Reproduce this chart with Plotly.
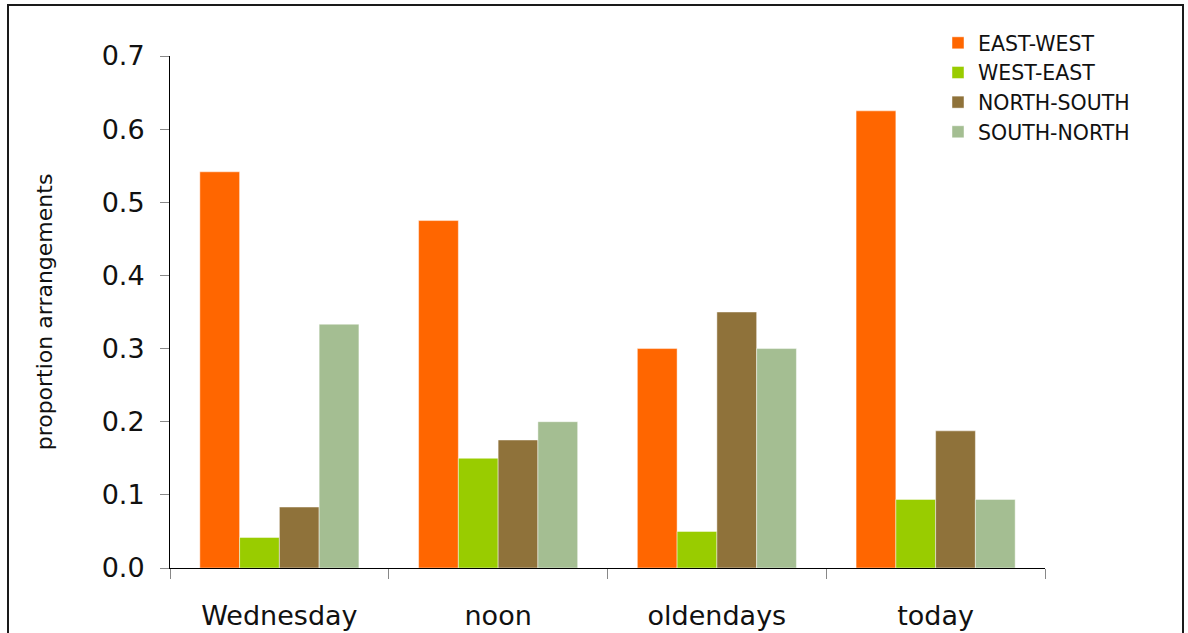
import plotly.graph_objects as go

# Proportion of arrangements per direction, for each situation
categories = ["Wednesday", "noon", "oldendays", "today"]
east_west = [13 / 24, 0.475, 0.30, 0.625]
west_east = [1 / 24, 0.15, 0.05, 0.09375]
north_south = [2 / 24, 0.175, 0.35, 0.1875]
south_north = [8 / 24, 0.20, 0.30, 0.09375]

series = [
    ("EAST-WEST", east_west, "#FF6600"),
    ("WEST-EAST", west_east, "#99CC00"),
    ("NORTH-SOUTH", north_south, "#8F723A"),
    ("SOUTH-NORTH", south_north, "#A4BE92"),
]

FONT = "DejaVu Sans"
W, H = 1188, 633
L, R, T, B = 170, 143, 56, 65
plot_w = W - L - R
plot_h = H - T - B

fig = go.Figure()
for name, vals, color in series:
    fig.add_trace(go.Bar(
        x=categories, y=vals, name=name,
        marker=dict(color=color, line=dict(color="rgba(255,255,255,0.45)", width=1)),
    ))

# Outer frame around the whole chart, expressed in plot-area paper units
def px_x(p):
    return (p - L) / plot_w

def px_y(p):
    return (H - B - p) / plot_h

fig.add_shape(
    type="rect", xref="paper", yref="paper",
    x0=px_x(8), x1=px_x(1183), y0=px_y(650), y1=px_y(5),
    line=dict(color="#1a1a1a", width=2), fillcolor="rgba(0,0,0,0)",
    layer="above",
)

fig.update_layout(
    width=W, height=H,
    margin=dict(l=L, r=R, t=T, b=B, pad=0, autoexpand=False),
    paper_bgcolor="white", plot_bgcolor="white",
    barmode="group", bargap=0.2727, bargroupgap=0,
    font=dict(family=FONT, color="#111111"),
    showlegend=True,
    legend=dict(
        x=px_x(938), y=px_y(23), xanchor="left", yanchor="top",
        font=dict(family=FONT, size=20.5, color="#111111"),
        bgcolor="rgba(0,0,0,0)", borderwidth=0,
        traceorder="normal",
    ),
    xaxis=dict(
        automargin=False,
        showline=True, linecolor="black", linewidth=1,
        ticks="outside", tickson="boundaries", ticklen=10,
        tickcolor="#888888", tickwidth=1,
        tickfont=dict(family=FONT, size=27, color="#111111"),
        ticklabelstandoff=24,
        showgrid=False, zeroline=False,
    ),
    yaxis=dict(
        automargin=False,
        range=[0, 0.7], dtick=0.1, tickformat=".1f",
        showline=True, linecolor="black", linewidth=1,
        ticks="outside", ticklen=9, tickcolor="#888888", tickwidth=1,
        tickfont=dict(family=FONT, size=27, color="#111111"),
        ticklabelstandoff=10,
        showgrid=False, zeroline=False,
        title=dict(text="proportion arrangements",
                   font=dict(family=FONT, size=22, color="#111111"),
                   standoff=42),
    ),
)

fig.write_html("out.html")
